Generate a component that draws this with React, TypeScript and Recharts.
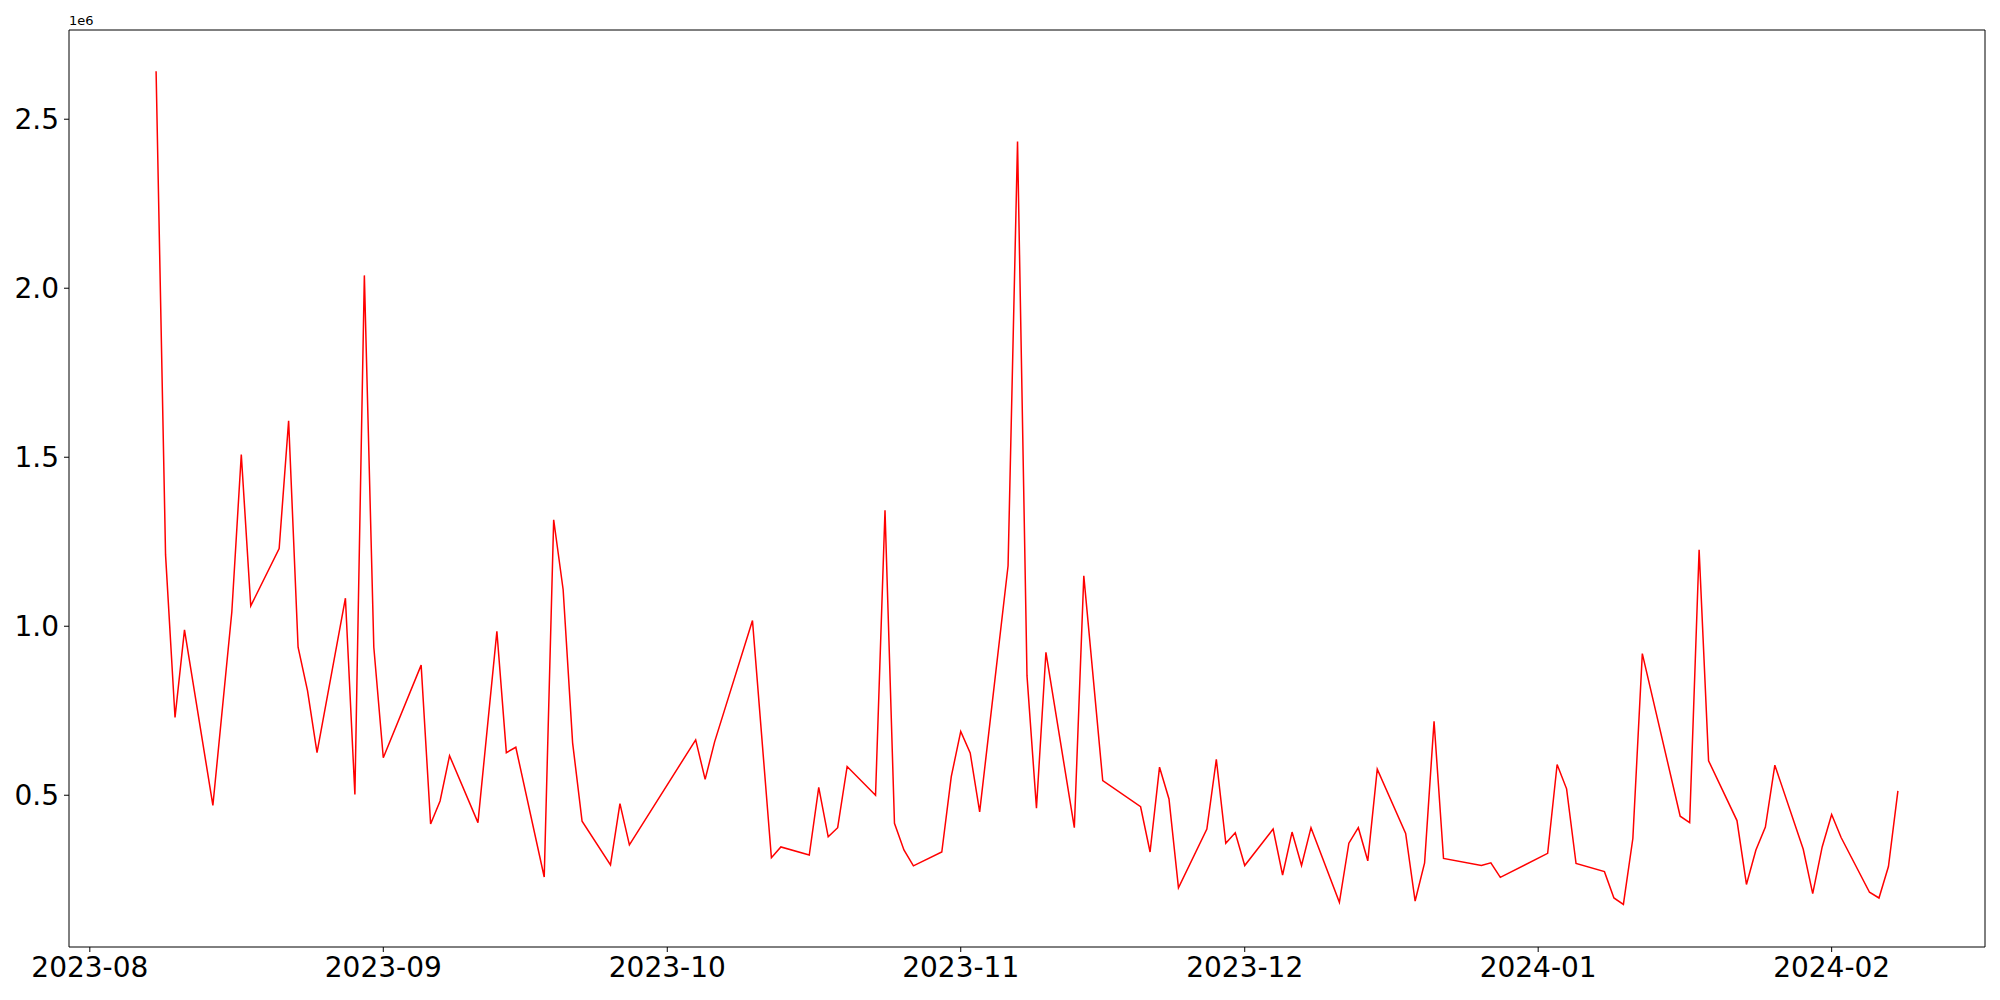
import { LineChart, Line, XAxis, YAxis, ReferenceLine } from "recharts";

// trading dates (some days missing in the source series)
const dates = [
  "2023-08-08", "2023-08-09", "2023-08-10", "2023-08-11", "2023-08-14",
  "2023-08-16", "2023-08-17", "2023-08-18", "2023-08-21", "2023-08-22",
  "2023-08-23", "2023-08-24", "2023-08-25", "2023-08-28", "2023-08-29",
  "2023-08-30", "2023-08-31", "2023-09-01", "2023-09-05", "2023-09-06",
  "2023-09-07", "2023-09-08", "2023-09-11", "2023-09-13", "2023-09-14",
  "2023-09-15", "2023-09-18", "2023-09-19", "2023-09-20", "2023-09-21",
  "2023-09-22", "2023-09-25", "2023-09-26", "2023-09-27", "2023-10-04",
  "2023-10-05", "2023-10-06", "2023-10-10", "2023-10-12", "2023-10-13",
  "2023-10-16", "2023-10-17", "2023-10-18", "2023-10-19", "2023-10-20",
  "2023-10-23", "2023-10-24", "2023-10-25", "2023-10-26", "2023-10-27",
  "2023-10-30", "2023-10-31", "2023-11-01", "2023-11-02", "2023-11-03",
  "2023-11-06", "2023-11-07", "2023-11-08", "2023-11-09", "2023-11-10",
  "2023-11-13", "2023-11-14", "2023-11-16", "2023-11-20", "2023-11-21",
  "2023-11-22", "2023-11-23", "2023-11-24", "2023-11-27", "2023-11-28",
  "2023-11-29", "2023-11-30", "2023-12-01", "2023-12-04", "2023-12-05",
  "2023-12-06", "2023-12-07", "2023-12-08", "2023-12-11", "2023-12-12",
  "2023-12-13", "2023-12-14", "2023-12-15", "2023-12-18", "2023-12-19",
  "2023-12-20", "2023-12-21", "2023-12-22", "2023-12-26", "2023-12-27",
  "2023-12-28", "2024-01-02", "2024-01-03", "2024-01-04", "2024-01-05",
  "2024-01-08", "2024-01-09", "2024-01-10", "2024-01-11", "2024-01-12",
  "2024-01-16", "2024-01-17", "2024-01-18", "2024-01-19", "2024-01-22",
  "2024-01-23", "2024-01-24", "2024-01-25", "2024-01-26", "2024-01-29",
  "2024-01-30", "2024-01-31", "2024-02-01", "2024-02-02", "2024-02-05",
  "2024-02-06", "2024-02-07", "2024-02-08",
];

const volumes = [
  2642000, 1211000, 730000, 989000, 470000,
  1042000, 1508000, 1060000, 1230000, 1608000,
  938000, 809000, 626000, 1083000, 502000,
  2038000, 938000, 611000, 885000, 415000,
  483000, 617000, 419000, 985000, 626000,
  642000, 258000, 1315000, 1108000, 655000,
  423000, 294000, 475000, 353000, 664000,
  547000, 658000, 1017000, 315000, 347000,
  323000, 523000, 377000, 404000, 585000,
  500000, 1343000, 417000, 338000, 291000,
  332000, 555000, 689000, 625000, 451000,
  1179000, 2434000, 853000, 462000, 923000,
  404000, 1149000, 543000, 466000, 332000,
  583000, 489000, 226000, 400000, 606000,
  358000, 389000, 292000, 400000, 264000,
  391000, 292000, 404000, 183000, 358000,
  404000, 306000, 577000, 387000, 187000,
  300000, 719000, 313000, 292000, 300000,
  257000, 328000, 591000, 519000, 298000,
  274000, 196000, 177000, 372000, 919000,
  438000, 419000, 1226000, 602000, 425000,
  236000, 338000, 406000, 589000, 340000,
  209000, 347000, 443000, 375000, 213000,
  196000, 289000, 513000,
];

const monthTicks = [
  "2023-08-01", "2023-09-01", "2023-10-01", "2023-11-01",
  "2023-12-01", "2024-01-01", "2024-02-01",
];

const yTicks = [500000, 1000000, 1500000, 2000000, 2500000];

const toMs = (d: string) => new Date(d + "T00:00:00Z").getTime();

const data = dates.map((d, i) => ({ t: toMs(d), v: volumes[i] }));

// matplotlib-style 5% margins on the x range
const tMin = data[0].t;
const tMax = data[data.length - 1].t;
const pad = (tMax - tMin) * 0.05;
const xDomain = [tMin - pad, tMax + pad];
const yDomain = [51000, 2764000];

const font = "'DejaVu Sans', sans-serif";
const tickStyle = { fill: "#000", fontSize: 28, fontFamily: font };

export default function App() {
  return (
    <div
      style={{
        position: "absolute",
        left: 0,
        top: 0,
        width: 2000,
        height: 1000,
        background: "#fff",
        fontFamily: font,
      }}
    >
      <div
        style={{
          position: "absolute",
          left: 69,
          top: 13,
          fontSize: 13,
          lineHeight: "16px",
          color: "#000",
        }}
      >
        1e6
      </div>
      <LineChart
        width={2000}
        height={1000}
        data={data}
        margin={{ top: 30, right: 15, left: 9, bottom: 8 }}
      >
        <XAxis
          dataKey="t"
          type="number"
          domain={xDomain}
          allowDataOverflow
          ticks={monthTicks.map(toMs)}
          interval={0}
          tickFormatter={(v: number) => new Date(v).toISOString().slice(0, 7)}
          height={45}
          tickSize={5}
          tickMargin={5}
          tick={tickStyle}
          axisLine={{ stroke: "#000", strokeWidth: 1 }}
          tickLine={{ stroke: "#000" }}
        />
        <YAxis
          type="number"
          domain={yDomain}
          allowDataOverflow
          ticks={yTicks}
          interval={0}
          tickFormatter={(v: number) => (v / 1e6).toFixed(1)}
          width={60}
          tickSize={5}
          tickMargin={5}
          tick={tickStyle}
          axisLine={{ stroke: "#000", strokeWidth: 1 }}
          tickLine={{ stroke: "#000" }}
        />
        {/* top and right spines */}
        <ReferenceLine y={yDomain[1]} stroke="#000" strokeWidth={1} />
        <ReferenceLine x={xDomain[1]} stroke="#000" strokeWidth={1} />
        <Line
          type="linear"
          dataKey="v"
          stroke="#ff0000"
          strokeWidth={1.5}
          dot={false}
          activeDot={false}
          isAnimationActive={false}
        />
      </LineChart>
    </div>
  );
}
